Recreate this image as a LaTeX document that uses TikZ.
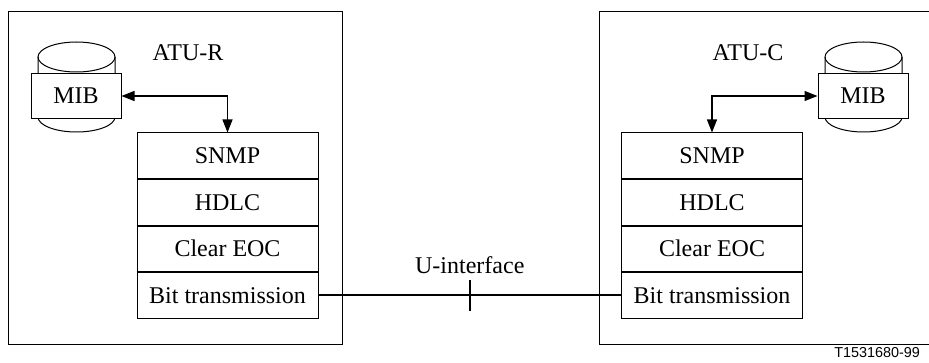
\documentclass[tikz,border=0pt]{standalone}
\usepackage{fontspec}
\setmainfont{Liberation Serif}
\setsansfont{Liberation Sans}
\usetikzlibrary{positioning,arrows.meta}
\begin{document}
\begin{tikzpicture}[x=0.5pt,y=-0.5pt,
  every node/.style={font=\fontsize{12}{14}\selectfont},
  layer/.style={draw, line width=0.5pt, minimum width=90.5pt, minimum height=22.75pt, inner sep=0pt},
  mibbox/.style={draw, fill=white, line width=0.5pt, minimum width=45pt, minimum height=22.5pt, inner sep=0pt},
  frame/.style={line width=0.5pt},
  link/.style={line width=0.6pt, {Triangle[length=6.5pt,width=5pt]}-{Triangle[length=6.5pt,width=5pt]}}]
\useasboundingbox (0,0) rectangle (929,363);
% ATU-R side
\draw[frame] (8,12) rectangle (342,344);
\node (atuR) at (188,53){ATU-R};
\draw[frame, fill=white] (38,57) -- (38,117) arc[start angle=180, end angle=360, x radius=19.25pt, y radius=7.5pt] -- (115,57);
\draw[frame] (76.5,57) ellipse [x radius=19.25pt, y radius=7.5pt];
\node[mibbox] (mibR) at (76,96){MIB};
\node[layer] (snmpR) at (227.5,155.75){SNMP};
\node[layer, below=0pt of snmpR] (hdlcR){HDLC};
\node[layer, below=0pt of hdlcR] (eocR){Clear EOC};
\node[layer, below=0pt of eocR] (bitR){Bit transmission};
\draw[link] (mibR.east) -| (snmpR.north);
% ATU-C side
\draw[frame] (599,12) rectangle (934,344);
\node (atuC) at (748,53){ATU-C};
\draw[frame, fill=white] (825,57) -- (825,117) arc[start angle=180, end angle=360, x radius=19.25pt, y radius=7.5pt] -- (902,57);
\draw[frame] (863.5,57) ellipse [x radius=19.25pt, y radius=7.5pt];
\node[mibbox] (mibC) at (863,96){MIB};
\node[layer] (snmpC) at (712,155.75){SNMP};
\node[layer, below=0pt of snmpC] (hdlcC){HDLC};
\node[layer, below=0pt of hdlcC] (eocC){Clear EOC};
\node[layer, below=0pt of eocC] (bitC){Bit transmission};
\draw[link] (snmpC.north) |- (mibC.west);
% thicker layer borders
\foreach \n in {snmpR,hdlcR,eocR,snmpC,hdlcC,eocC}
  \draw[line width=1pt] (\n.south west) -- (\n.south east);
% U-interface
\draw[line width=1pt] (bitR.east) -- coordinate[midway] (uMid) (bitC.west);
\draw[line width=1pt] ([yshift=7.5pt]uMid) -- ([yshift=-8pt]uMid);
\node[above=7pt of uMid] (uLabel){U-interface};
\node[anchor=base east, font=\sffamily\fontsize{7.2}{8}\selectfont] (figId) at (927,357){T1531680-99};
\end{tikzpicture}
\end{document}
